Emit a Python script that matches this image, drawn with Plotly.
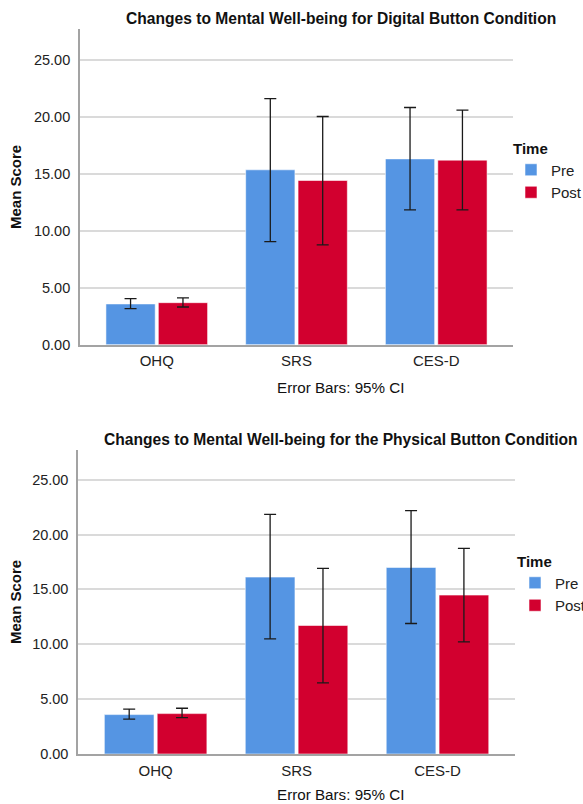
import plotly.graph_objects as go

# Measures on the x axis
categories = ["OHQ", "SRS", "CES-D"]

# Digital button condition: means and 95% CI bounds
digital_pre = [3.58, 15.36, 16.32]
digital_pre_lo = [3.16, 9.05, 11.84]
digital_pre_hi = [4.04, 21.62, 20.83]
digital_post = [3.69, 14.42, 16.21]
digital_post_lo = [3.31, 8.76, 11.84]
digital_post_hi = [4.11, 20.04, 20.60]

# Physical button condition: means and 95% CI bounds
physical_pre = [3.59, 16.12, 17.00]
physical_pre_lo = [3.17, 10.49, 11.89]
physical_pre_hi = [4.08, 21.83, 22.17]
physical_post = [3.68, 11.71, 14.48]
physical_post_lo = [3.31, 6.48, 10.22]
physical_post_hi = [4.17, 16.91, 18.73]

y_ticks = [0, 5, 10, 15, 20, 25]
y_tick_labels = ["0.00", "5.00", "10.00", "15.00", "20.00", "25.00"]

W, H = 583, 804
FONT = "Arial, Liberation Sans, sans-serif"
PRE_COLOR = "#5595E3"
POST_COLOR = "#D2002F"


def px_x(p):
    return p / W


def px_y(p):
    return 1 - p / H


def bar(name, color, means, lo, hi, xa, ya, legend, show):
    return go.Bar(
        name=name,
        x=categories,
        y=means,
        marker=dict(color=color, line=dict(color="rgba(255,255,255,0.55)", width=1)),
        error_y=dict(
            type="data",
            symmetric=False,
            array=[h - m for h, m in zip(hi, means)],
            arrayminus=[m - l for m, l in zip(means, lo)],
            color="#1a1a1a",
            thickness=1.3,
            width=6,
        ),
        xaxis=xa,
        yaxis=ya,
        legend=legend,
        showlegend=show,
    )


fig = go.Figure()
fig.add_trace(bar("Pre", PRE_COLOR, digital_pre, digital_pre_lo, digital_pre_hi, "x", "y", "legend", True))
fig.add_trace(bar("Post", POST_COLOR, digital_post, digital_post_lo, digital_post_hi, "x", "y", "legend", True))
fig.add_trace(bar("Pre", PRE_COLOR, physical_pre, physical_pre_lo, physical_pre_hi, "x2", "y2", "legend2", True))
fig.add_trace(bar("Post", POST_COLOR, physical_post, physical_post_lo, physical_post_hi, "x2", "y2", "legend2", True))

xaxis_common = dict(
    type="category",
    range=[-0.55, 2.55],
    showgrid=False,
    showline=True,
    linecolor="#A3A3A3",
    linewidth=1.5,
    ticks="",
    tickfont=dict(family=FONT, size=15, color="#222"),
    ticklabelstandoff=2,
    zeroline=False,
    fixedrange=True,
)
yaxis_common = dict(
    range=[0, 27.7],
    tickvals=y_ticks,
    ticktext=y_tick_labels,
    showgrid=True,
    gridcolor="#DADADA",
    gridwidth=1.5,
    showline=True,
    linecolor="#A3A3A3",
    linewidth=1.5,
    ticks="",
    tickfont=dict(family=FONT, size=14.5, color="#222"),
    ticklabelstandoff=5,
    zeroline=False,
    fixedrange=True,
)

legend_common = dict(
    font=dict(family=FONT, size=15, color="#222"),
    xanchor="left",
    yanchor="top",
    bgcolor="rgba(0,0,0,0)",
    tracegroupgap=0,
    itemwidth=30,
)

fig.update_layout(
    width=W,
    height=H,
    margin=dict(l=0, r=0, t=0, b=0, autoexpand=False),
    paper_bgcolor="white",
    plot_bgcolor="white",
    barmode="group",
    bargap=0.25,
    bargroupgap=0.06,
    xaxis=dict(xaxis_common, domain=[px_x(79.9), px_x(513.1)], anchor="y"),
    yaxis=dict(yaxis_common, domain=[px_y(344.7), px_y(29.3)], anchor="x"),
    xaxis2=dict(xaxis_common, domain=[px_x(78.1), px_x(515.0)], anchor="y2"),
    yaxis2=dict(yaxis_common, domain=[px_y(754.0), px_y(450.0)], anchor="x2"),
    legend=dict(
        legend_common,
        x=px_x(511),
        y=px_y(134),
        title=dict(text="<b>Time</b>", font=dict(family=FONT, size=15, color="#111")),
    ),
    legend2=dict(
        legend_common,
        x=px_x(515),
        y=px_y(547),
        title=dict(text="<b>Time</b>", font=dict(family=FONT, size=15, color="#111")),
    ),
)

annotations = [
    dict(text="<b>Changes to Mental Well-being for Digital Button Condition</b>",
         x=px_x(340.6), y=px_y(19), size=15.6),
    dict(text="<b>Changes to Mental Well-being for the Physical Button Condition</b>",
         x=px_x(340.6), y=px_y(440), size=15.6),
    dict(text="Error Bars: 95% CI", x=px_x(340.6), y=px_y(387.5), size=15.2),
    dict(text="Error Bars: 95% CI", x=px_x(340.6), y=px_y(794), size=15.2),
]
for a in annotations:
    fig.add_annotation(
        text=a["text"], x=a["x"], y=a["y"], xref="paper", yref="paper",
        xanchor="center", yanchor="middle", showarrow=False,
        font=dict(family=FONT, size=a["size"], color="#111"),
    )

for yc in (187.0, 602.0):
    fig.add_annotation(
        text="<b>Mean Score</b>", x=px_x(15), y=px_y(yc), xref="paper", yref="paper",
        xanchor="center", yanchor="middle", showarrow=False, textangle=-90,
        font=dict(family=FONT, size=15, color="#111"),
    )

fig.write_html("out.html")
